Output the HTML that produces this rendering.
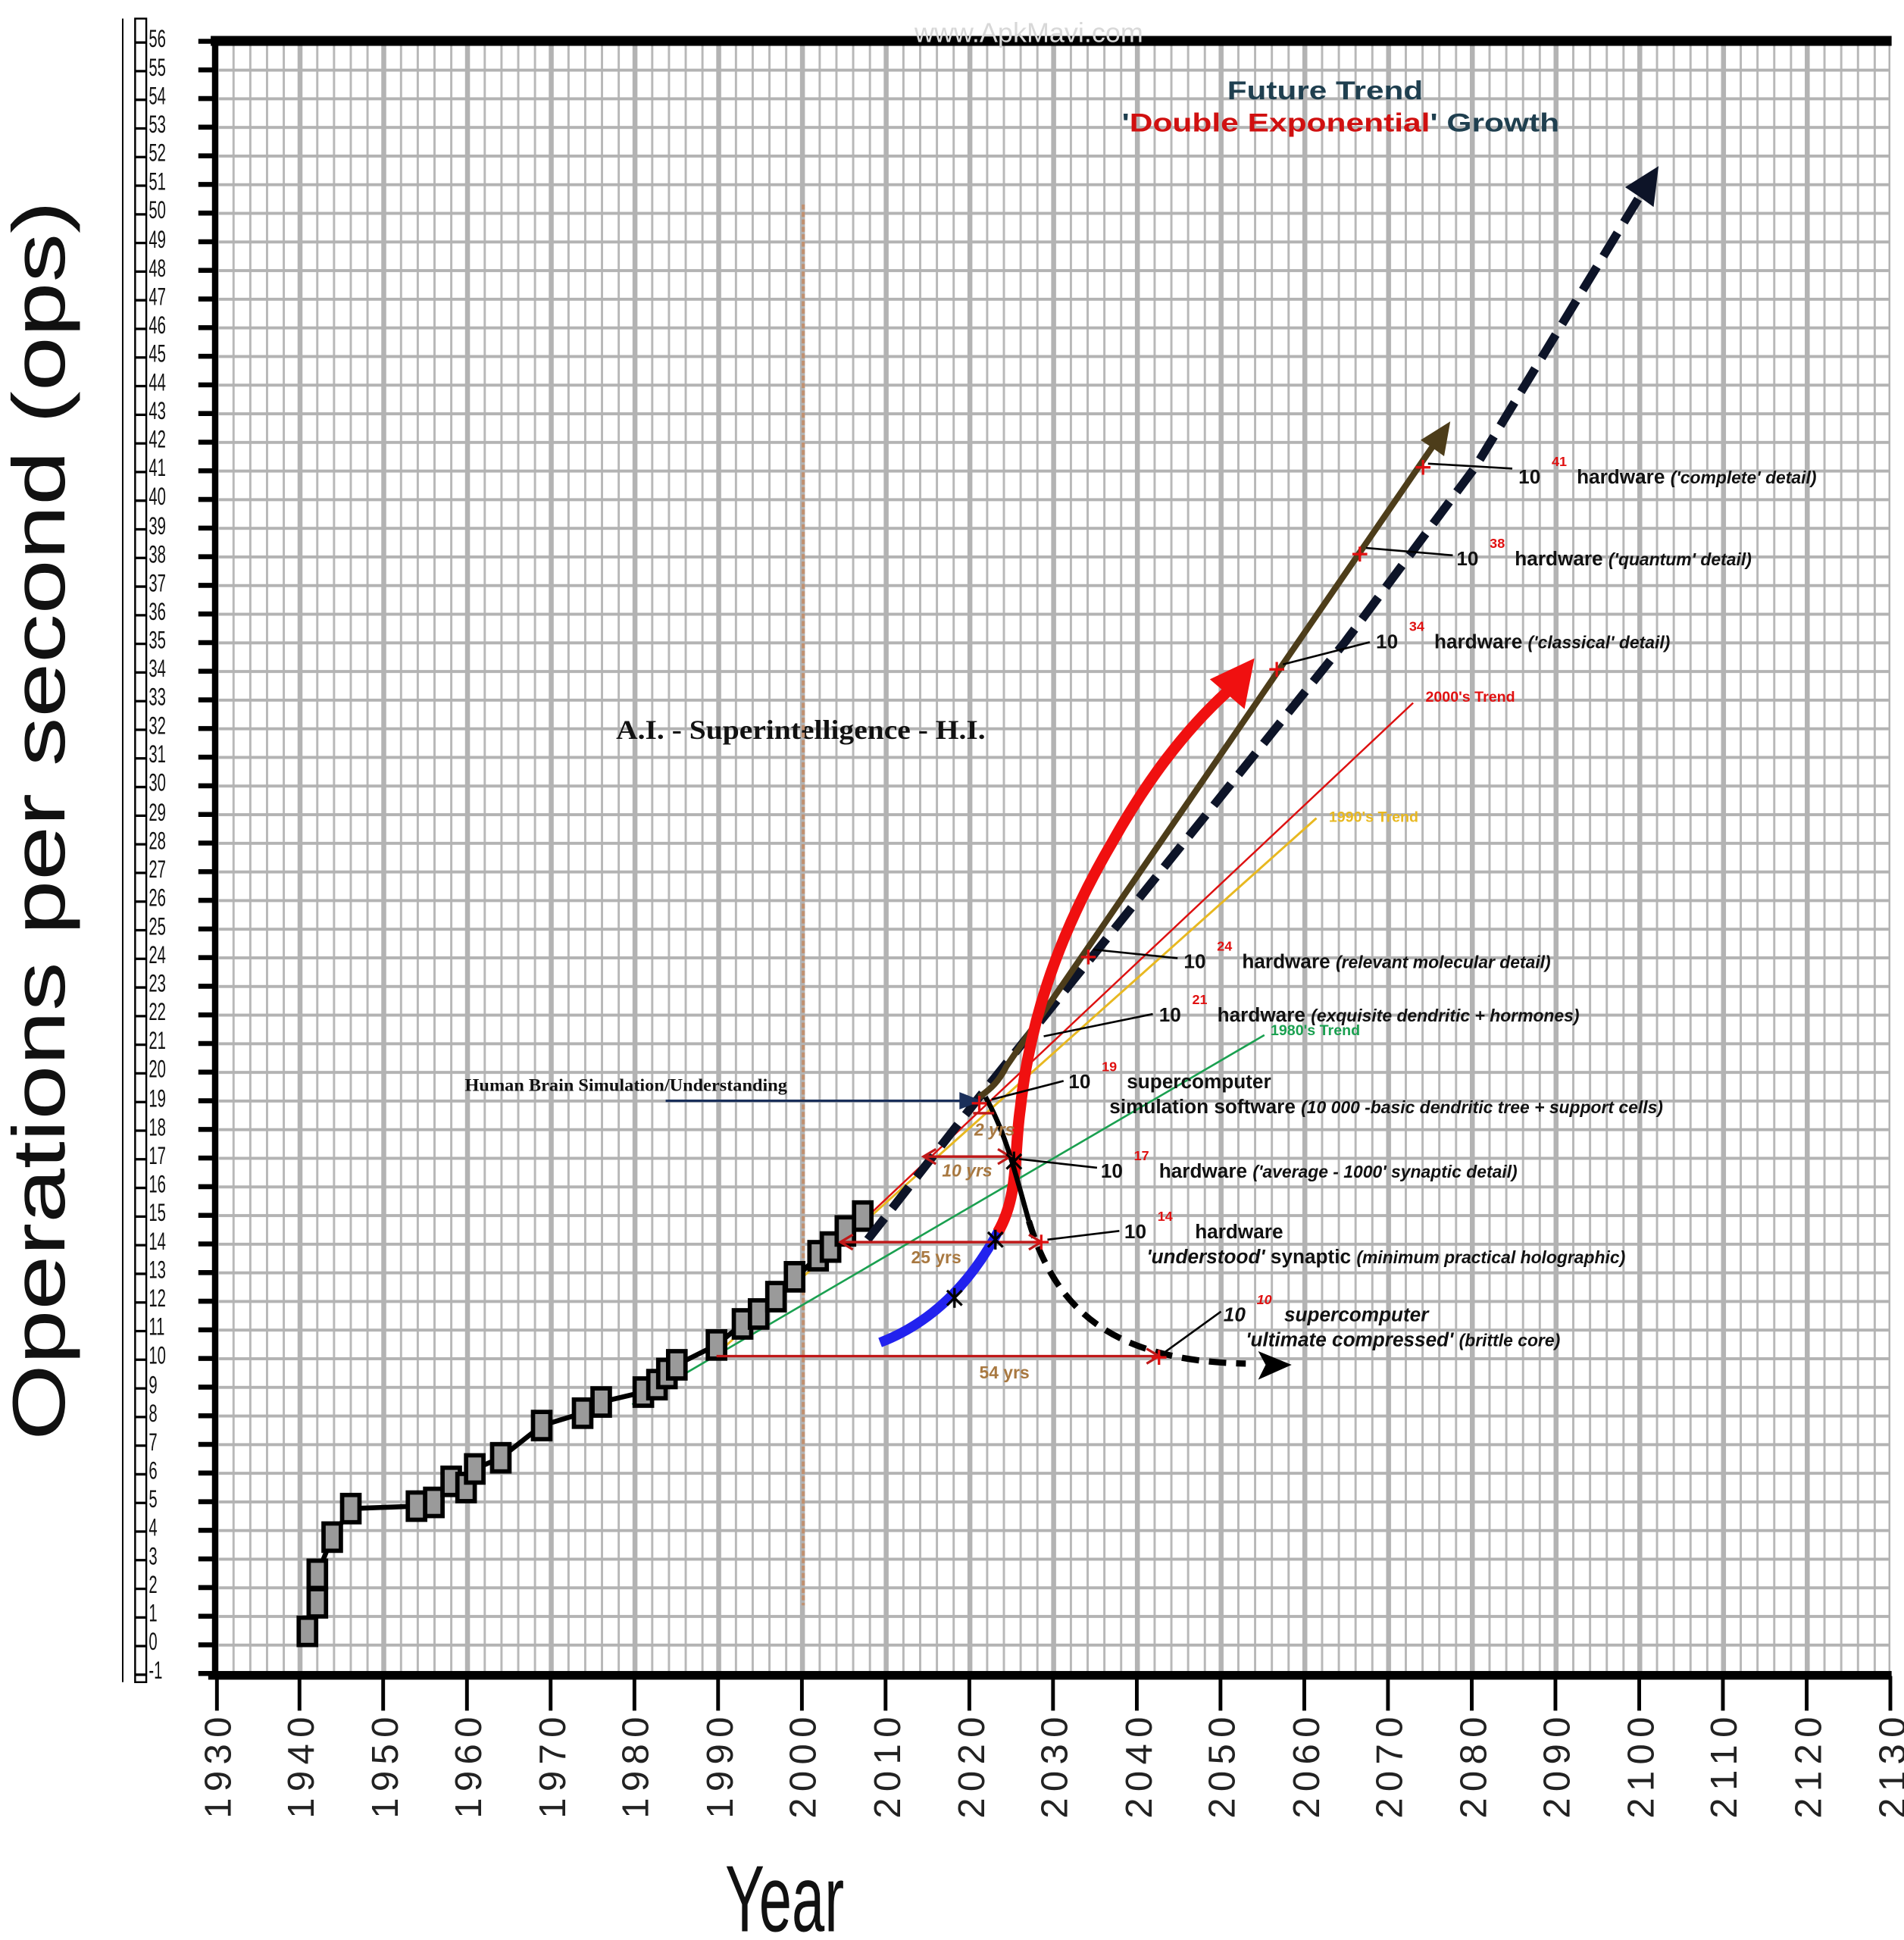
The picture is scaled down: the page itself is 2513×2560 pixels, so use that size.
<!DOCTYPE html>
<html><head><meta charset="utf-8"><style>
html,body{margin:0;padding:0;background:#fff;width:2513px;height:2560px;overflow:hidden}
svg{display:block}
.a{font-family:"Liberation Sans",sans-serif;font-weight:bold;font-size:16px;fill:#111}
.i{font-style:italic;font-size:14px}
.s{fill:#e01010;font-size:11px}
.yl{font-family:"Liberation Sans Narrow","Liberation Sans",sans-serif;font-size:20px;fill:#111}
</style></head><body>
<svg width="2513" height="2560" viewBox="0 0 1536 1565" preserveAspectRatio="none" xmlns="http://www.w3.org/2000/svg">
<defs>
<pattern id="minor" patternUnits="userSpaceOnUse" x="11.88" y="0" width="13.51" height="100"><rect x="0" y="0" width="1.8" height="100" fill="#b8b8b8"/></pattern>
<pattern id="dec" patternUnits="userSpaceOnUse" x="37.4" y="0" width="67.55" height="100"><rect x="0" y="0" width="4" height="100" fill="#b3b3b3"/></pattern>
<pattern id="hor" patternUnits="userSpaceOnUse" x="0" y="9.2" width="100" height="23.1"><rect x="0" y="0" width="100" height="2.4" fill="#b3b3b3"/></pattern>
</defs>
<rect width="1536" height="1565" fill="#fff"/>
<rect x="174" y="36" width="1351" height="1316" fill="url(#minor)"/>
<rect x="174" y="36" width="1351" height="1316" fill="url(#hor)"/>
<rect x="174" y="36" width="1351" height="1316" fill="url(#dec)"/>
<rect x="170" y="29" width="1356" height="8" fill="#000"/>
<rect x="171" y="33" width="5" height="1320" fill="#000"/>
<rect x="168" y="1348" width="1358" height="7" fill="#000"/>
<line x1="167" y1="1352" x2="167" y2="30" stroke="#000" stroke-width="14" stroke-dasharray="4 19.1"/>
<g stroke="#000" stroke-width="3">
<line x1="175" y1="1352" x2="175" y2="1380"/><line x1="241.6" y1="1352" x2="241.6" y2="1380"/><line x1="309.1" y1="1352" x2="309.1" y2="1380"/><line x1="376.7" y1="1352" x2="376.7" y2="1380"/><line x1="444.2" y1="1352" x2="444.2" y2="1380"/><line x1="511.8" y1="1352" x2="511.8" y2="1380"/><line x1="579.3" y1="1352" x2="579.3" y2="1380"/><line x1="646.9" y1="1352" x2="646.9" y2="1380"/><line x1="714.4" y1="1352" x2="714.4" y2="1380"/><line x1="782" y1="1352" x2="782" y2="1380"/><line x1="849.5" y1="1352" x2="849.5" y2="1380"/><line x1="917.1" y1="1352" x2="917.1" y2="1380"/><line x1="984.6" y1="1352" x2="984.6" y2="1380"/><line x1="1052.2" y1="1352" x2="1052.2" y2="1380"/><line x1="1119.7" y1="1352" x2="1119.7" y2="1380"/><line x1="1187.3" y1="1352" x2="1187.3" y2="1380"/><line x1="1254.8" y1="1352" x2="1254.8" y2="1380"/><line x1="1322.4" y1="1352" x2="1322.4" y2="1380"/><line x1="1389.9" y1="1352" x2="1389.9" y2="1380"/><line x1="1457.5" y1="1352" x2="1457.5" y2="1380"/><line x1="1525" y1="1352" x2="1525" y2="1380"/>
</g>
<g font-family="Liberation Sans, sans-serif" font-size="30" fill="#222">
<text transform="translate(186,1467) rotate(-90)" textLength="82">1930</text>
<text transform="translate(253,1467) rotate(-90)" textLength="82">1940</text>
<text transform="translate(321,1467) rotate(-90)" textLength="82">1950</text>
<text transform="translate(388,1467) rotate(-90)" textLength="82">1960</text>
<text transform="translate(456,1467) rotate(-90)" textLength="82">1970</text>
<text transform="translate(523,1467) rotate(-90)" textLength="82">1980</text>
<text transform="translate(591,1467) rotate(-90)" textLength="82">1990</text>
<text transform="translate(658,1467) rotate(-90)" textLength="82">2000</text>
<text transform="translate(726,1467) rotate(-90)" textLength="82">2010</text>
<text transform="translate(794,1467) rotate(-90)" textLength="82">2020</text>
<text transform="translate(861,1467) rotate(-90)" textLength="82">2030</text>
<text transform="translate(929,1467) rotate(-90)" textLength="82">2040</text>
<text transform="translate(996,1467) rotate(-90)" textLength="82">2050</text>
<text transform="translate(1064,1467) rotate(-90)" textLength="82">2060</text>
<text transform="translate(1131,1467) rotate(-90)" textLength="82">2070</text>
<text transform="translate(1199,1467) rotate(-90)" textLength="82">2080</text>
<text transform="translate(1266,1467) rotate(-90)" textLength="82">2090</text>
<text transform="translate(1334,1467) rotate(-90)" textLength="82">2100</text>
<text transform="translate(1401,1467) rotate(-90)" textLength="82">2110</text>
<text transform="translate(1469,1467) rotate(-90)" textLength="82">2120</text>
<text transform="translate(1537,1467) rotate(-90)" textLength="82">2130</text>
</g>
<text x="585" y="1558" font-family="Liberation Sans, sans-serif" font-size="76" fill="#111" textLength="96" lengthAdjust="spacingAndGlyphs">Year</text>
<text transform="translate(52,1162) rotate(-90)" font-family="Liberation Sans, sans-serif" font-size="60" fill="#111" textLength="1000" lengthAdjust="spacingAndGlyphs">Operations per second (ops)</text>
<line x1="99" y1="15" x2="99" y2="1357" stroke="#000" stroke-width="1.2"/>
<rect x="109" y="15" width="9" height="1342" fill="#fff" stroke="#000" stroke-width="1.5"/>
<line x1="113.5" y1="1352" x2="113.5" y2="28" stroke="#000" stroke-width="10" stroke-dasharray="2 21.1"/>
<g class="yl" transform="translate(120,0) scale(0.62,1)">
<text y="1354">-1</text><text y="1331">0</text><text y="1308">1</text><text y="1285">2</text><text y="1262">3</text><text y="1239">4</text><text y="1216">5</text><text y="1193">6</text><text y="1170">7</text><text y="1147">8</text><text y="1124">9</text><text y="1100">10</text><text y="1077">11</text><text y="1054">12</text><text y="1031">13</text><text y="1008">14</text><text y="985">15</text><text y="962">16</text><text y="939">17</text><text y="916">18</text><text y="893">19</text><text y="869">20</text><text y="846">21</text><text y="823">22</text><text y="800">23</text><text y="777">24</text><text y="754">25</text><text y="731">26</text><text y="708">27</text><text y="685">28</text><text y="662">29</text><text y="638">30</text><text y="615">31</text><text y="592">32</text><text y="569">33</text><text y="546">34</text><text y="523">35</text><text y="500">36</text><text y="477">37</text><text y="454">38</text><text y="431">39</text><text y="407">40</text><text y="384">41</text><text y="361">42</text><text y="338">43</text><text y="315">44</text><text y="292">45</text><text y="269">46</text><text y="246">47</text><text y="223">48</text><text y="200">49</text><text y="176">50</text><text y="153">51</text><text y="130">52</text><text y="107">53</text><text y="84">54</text><text y="61">55</text><text y="38">56</text>
</g>
<text x="830" y="34" text-anchor="middle" font-family="Liberation Sans, sans-serif" font-size="22" fill="#d8d8d8">www.ApkMavi.com</text>
<text x="990" y="80" font-family="Liberation Sans, sans-serif" font-weight="bold" font-size="21" fill="#1f3f4f" textLength="158" lengthAdjust="spacingAndGlyphs">Future Trend</text>
<text x="905" y="106" font-family="Liberation Sans, sans-serif" font-weight="bold" font-size="21" fill="#1f3f4f" textLength="353" lengthAdjust="spacingAndGlyphs">'<tspan fill="#d01010">Double Exponential</tspan>' Growth</text>
<text x="497" y="596" font-family="Liberation Serif, serif" font-weight="bold" font-size="22" fill="#111" textLength="298" lengthAdjust="spacingAndGlyphs">A.I.  -  Superintelligence  -  H.I.</text>
<text x="375" y="880" font-family="Liberation Serif, serif" font-weight="bold" font-size="14.5" fill="#111" textLength="260" lengthAdjust="spacingAndGlyphs">Human Brain Simulation/Understanding</text>
<line x1="648" y1="165" x2="648" y2="1295" stroke="#c09070" stroke-width="2.5" stroke-dasharray="4 2"/>
<line x1="510" y1="1133" x2="1020" y2="835" stroke="#1aa050" stroke-width="1.6"/>
<line x1="575" y1="1095" x2="1062" y2="660" stroke="#e8b820" stroke-width="1.8"/>
<line x1="680" y1="1000" x2="1140" y2="567" stroke="#dd1010" stroke-width="1.5"/>
<polyline points="248,1316 256,1293 256,1270 268,1240 283,1217 336,1215 350,1212 364,1195 376,1200 383,1185 404,1176 437,1150 470,1140 473,1136 485,1131 519,1123 530,1117 538,1108 546,1101 578,1085 599,1068 604,1062 612,1060 626,1046 641,1030 648,1025 660,1013 668,1006 680,993 690,985 696,981" fill="none" stroke="#000" stroke-width="4"/>
<g fill="#9a9a9a" stroke="#000" stroke-width="3.5">
<rect x="241" y="1305" width="14" height="22"/><rect x="249" y="1282" width="14" height="22"/><rect x="249" y="1259" width="14" height="22"/><rect x="261" y="1229" width="14" height="22"/><rect x="276" y="1206" width="14" height="22"/><rect x="329" y="1204" width="14" height="22"/><rect x="343" y="1201" width="14" height="22"/><rect x="357" y="1184" width="14" height="22"/><rect x="369" y="1189" width="14" height="22"/><rect x="376" y="1174" width="14" height="22"/><rect x="397" y="1165" width="14" height="22"/><rect x="430" y="1139" width="14" height="22"/><rect x="463" y="1129" width="14" height="22"/><rect x="478" y="1120" width="14" height="22"/><rect x="512" y="1112" width="14" height="22"/><rect x="523" y="1106" width="14" height="22"/><rect x="531" y="1097" width="14" height="22"/><rect x="539" y="1090" width="14" height="22"/><rect x="571" y="1074" width="14" height="22"/><rect x="592" y="1057" width="14" height="22"/><rect x="605" y="1049" width="14" height="22"/><rect x="619" y="1035" width="14" height="22"/><rect x="634" y="1019" width="14" height="22"/><rect x="653" y="1002" width="14" height="22"/><rect x="663" y="995" width="14" height="22"/><rect x="675" y="982" width="14" height="22"/><rect x="689" y="970" width="14" height="22"/>
</g>
<!-- main dashed black -->
<polyline points="700,1000 790,885 1085,518 1190,377 1323,158" fill="none" stroke="#0d1428" stroke-width="7" stroke-dasharray="22 10"/>
<polygon points="1338,134 1334,167 1323,159 1311,151" fill="#0d1428"/>
<!-- brown -->
<path d="M790,885 C800,878 806,872 812,860 L1160,354" fill="none" stroke="#4d3d1a" stroke-width="5"/>
<polygon points="1170,340 1165,368 1156,361.5 1146,355" fill="#4d3d1a"/>
<!-- blue + red curve -->
<path d="M710,1083 Q770,1060 806,992" fill="none" stroke="#2222ee" stroke-width="8"/>
<path d="M805,994 C822,965 818,930 823,895 C830,830 850,760 897,680 C925,630 955,590 990,558" fill="none" stroke="#f01010" stroke-width="9"/>
<polygon points="1012,531 1004,572 976,548" fill="#f01010"/>
<path d="M795,885 C812,915 820,950 830,985" fill="none" stroke="#000" stroke-width="4"/>
<path d="M830,985 C850,1050 890,1098 1005,1100" fill="none" stroke="#000" stroke-width="5" stroke-dasharray="14 8"/>
<polygon points="1042,1101 1015,1090 1021,1101 1015,1113" fill="#000"/>
<line x1="537" y1="888" x2="778" y2="888" stroke="#1a2f5a" stroke-width="2"/>
<polygon points="792,888 774,881 774,895" fill="#1a2f5a"/>
<g stroke="#c01818" stroke-width="2" fill="none">
<line x1="578" y1="1094" x2="935" y2="1094"/><polyline points="925,1088 935,1094 925,1100"/>
<line x1="678" y1="1002" x2="840" y2="1002"/><polyline points="830,996 840,1002 830,1008"/><polyline points="688,996 678,1002 688,1008"/>
<line x1="745" y1="933" x2="815" y2="933"/><polyline points="805,927 815,933 805,939"/><polyline points="755,927 745,933 755,939"/>
<line x1="785" y1="898" x2="802" y2="898"/>
</g>
<g font-family="Liberation Sans, sans-serif" font-weight="bold" font-size="14" fill="#a87840">
<text x="790" y="1112">54 yrs</text><text x="735" y="1019">25 yrs</text><text x="760" y="949" font-style="italic">10 yrs</text><text x="786" y="916" font-style="italic">2 yrs</text>
</g>
<g stroke="#e01010" stroke-width="2">
<path d="M1142,377h12M1148,371v12"/><path d="M1091,447h12M1097,441v12"/><path d="M1024,540h12M1030,534v12"/><path d="M929,1095h12M935,1089v12"/><path d="M834,1002h12M840,996v12"/><path d="M784,890h12M790,884v12"/><path d="M872,772h12M878,766v12"/>
</g>
<g stroke="#000" stroke-width="2">
<path d="M764,1041l12,12M776,1041l-12,12M770,1039v16"/><path d="M797,994l12,12M809,994l-12,12M803,992v16"/><path d="M812,931l12,12M824,931l-12,12M818,929v16"/>
</g>
<g stroke="#000" stroke-width="1.6">
<line x1="1152" y1="374" x2="1220" y2="378"/><line x1="1102" y1="442" x2="1172" y2="448"/><line x1="1035" y1="536" x2="1105" y2="518"/>
<line x1="882" y1="766" x2="950" y2="773"/><line x1="842" y1="836" x2="930" y2="818"/><line x1="800" y1="887" x2="858" y2="872"/>
<line x1="822" y1="935" x2="885" y2="942"/><line x1="845" y1="1000" x2="903" y2="993"/><line x1="938" y1="1092" x2="985" y2="1058"/>
</g>
<text class="a" x="1225" y="390">10<tspan class="s" dx="9" dy="-14">41</tspan><tspan dx="8" dy="14">hardware </tspan><tspan class="i">('complete' detail)</tspan></text>
<text class="a" x="1175" y="456">10<tspan class="s" dx="9" dy="-14">38</tspan><tspan dx="8" dy="14">hardware </tspan><tspan class="i">('quantum' detail)</tspan></text>
<text class="a" x="1110" y="523">10<tspan class="s" dx="9" dy="-14">34</tspan><tspan dx="8" dy="14">hardware </tspan><tspan class="i">('classical' detail)</tspan></text>
<text x="1150" y="566" font-family="Liberation Sans, sans-serif" font-weight="bold" font-size="12" fill="#e01010">2000's Trend</text>
<text x="1072" y="663" font-family="Liberation Sans, sans-serif" font-weight="bold" font-size="12" fill="#e8b820">1990's Trend</text>
<text x="1025" y="835" font-family="Liberation Sans, sans-serif" font-weight="bold" font-size="12" fill="#1aa050">1980's Trend</text>
<text class="a" x="955" y="781">10<tspan class="s" dx="9" dy="-14">24</tspan><tspan dx="8" dy="14">hardware </tspan><tspan class="i">(relevant molecular detail)</tspan></text>
<text class="a" x="935" y="824">10<tspan class="s" dx="9" dy="-14">21</tspan><tspan dx="8" dy="14">hardware </tspan><tspan class="i">(exquisite dendritic + hormones)</tspan></text>
<text class="a" x="862" y="878">10<tspan class="s" dx="9" dy="-14">19</tspan><tspan dx="8" dy="14">supercomputer</tspan></text>
<text class="a" x="895" y="898">simulation software <tspan class="i">(10 000 -basic dendritic tree + support cells)</tspan></text>
<text class="a" x="888" y="950">10<tspan class="s" dx="9" dy="-14">17</tspan><tspan dx="8" dy="14">hardware </tspan><tspan class="i">('average - 1000' synaptic detail)</tspan></text>
<text class="a" x="907" y="999">10<tspan class="s" dx="9" dy="-14">14</tspan><tspan dx="18" dy="14">hardware</tspan></text>
<text class="a" x="925" y="1019"><tspan font-style="italic">'understood'</tspan> synaptic <tspan class="i">(minimum practical holographic)</tspan></text>
<text class="a" x="987" y="1066" font-style="italic">10<tspan class="s" dx="9" dy="-14">10</tspan><tspan dx="10" dy="14">supercomputer</tspan></text>
<text class="a" x="1005" y="1086"><tspan font-style="italic">'ultimate compressed'</tspan> <tspan class="i">(brittle core)</tspan></text>
</svg>
</body></html>
